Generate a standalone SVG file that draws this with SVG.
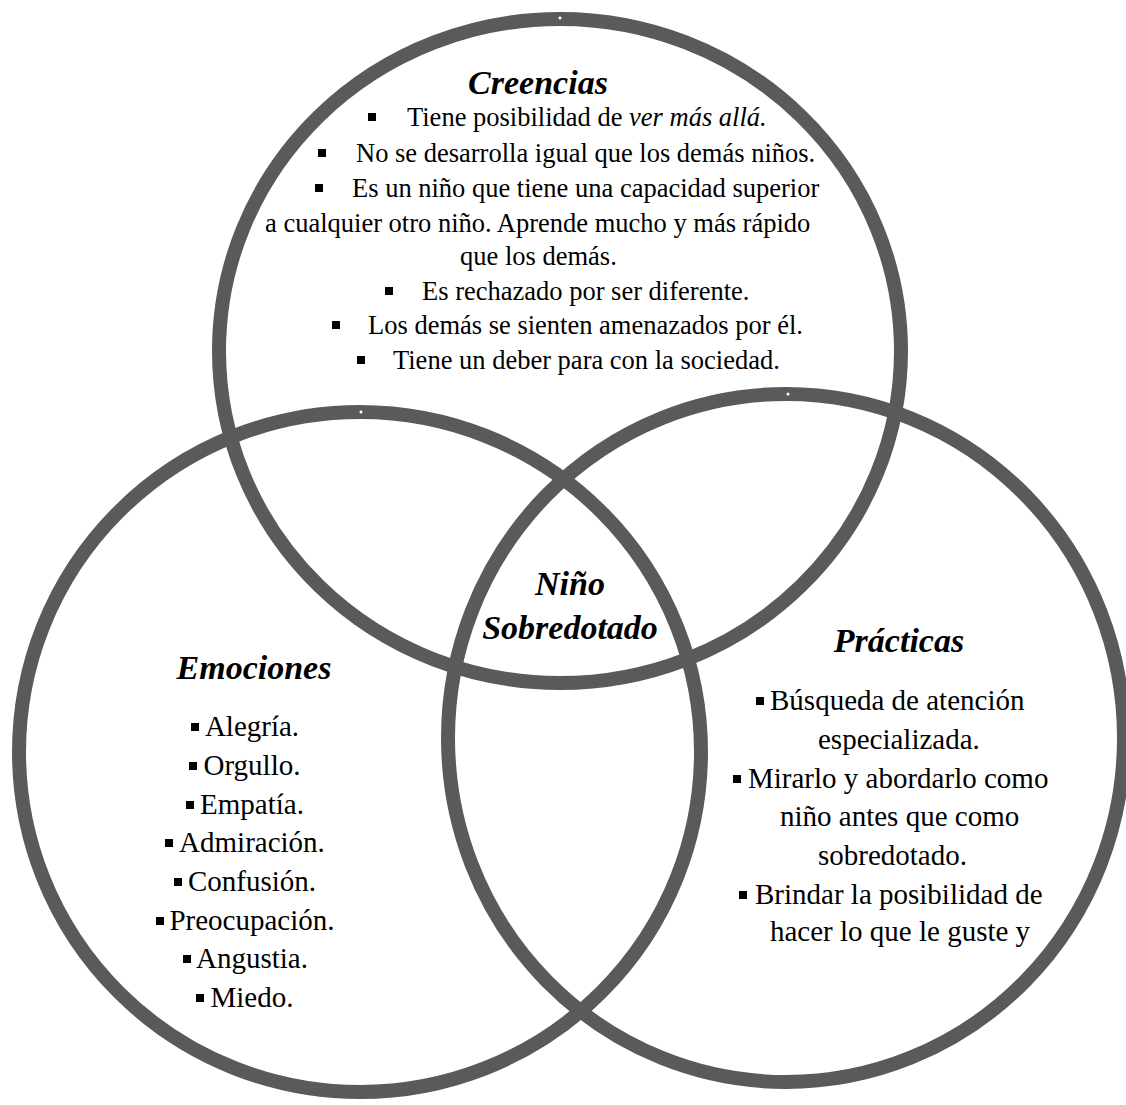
<svg xmlns="http://www.w3.org/2000/svg" width="1126" height="1105" viewBox="0 0 1126 1105">
<style>
.ring{fill:none;stroke:#5a5a5a;stroke-width:14}
.dot{fill:#ffffff}
.title{font-family:"Liberation Serif","Times New Roman",serif;font-weight:bold;font-style:italic;font-size:34px;fill:#000;text-anchor:middle}
.top{font-family:"Liberation Serif","Times New Roman",serif;font-size:26.5px;fill:#000}
.low{font-family:"Liberation Serif","Times New Roman",serif;font-size:29px;fill:#000}
.b{fill:#000}
</style>
<rect width="1126" height="1105" fill="#ffffff"/>
<g id="rings">
<g id="creencias-circle"><ellipse class="ring" cx="560" cy="351" rx="341" ry="332"/><circle class="dot" cx="560" cy="18" r="1.5"/></g>
<g id="emociones-circle"><ellipse class="ring" cx="360" cy="752" rx="341" ry="340"/><circle class="dot" cx="361" cy="412" r="1.5"/></g>
<g id="practicas-circle"><ellipse class="ring" cx="786" cy="738" rx="338" ry="344"/><circle class="dot" cx="788" cy="394" r="1.5"/></g>
</g>
<g id="creencias">
<text class="title" x="538" y="94">Creencias</text>
<g class="top">
<rect class="b" x="368" y="113" width="8" height="8"/>
<text x="407" y="126">Tiene posibilidad de <tspan font-style="italic">ver más allá.</tspan></text>
<rect class="b" x="318" y="149" width="8" height="8"/>
<text x="356" y="162">No se desarrolla igual que los demás niños.</text>
<rect class="b" x="315" y="184" width="8" height="8"/>
<text x="352" y="197">Es un niño que tiene una capacidad superior</text>
<text x="265" y="232">a cualquier otro niño. Aprende mucho y más rápido</text>
<text x="460" y="265">que los demás.</text>
<rect class="b" x="385" y="287" width="8" height="8"/>
<text x="422" y="300">Es rechazado por ser diferente.</text>
<rect class="b" x="332" y="321" width="8" height="8"/>
<text x="368" y="334">Los demás se sienten amenazados por él.</text>
<rect class="b" x="357" y="356" width="8" height="8"/>
<text x="393" y="369">Tiene un deber para con la sociedad.</text>
</g>
</g>
<g id="nino">
<text class="title" x="570" y="595">Niño</text>
<text class="title" x="570" y="639">Sobredotado</text>
</g>
<g id="emociones">
<text class="title" x="254" y="679">Emociones</text>
<g class="low" text-anchor="middle">
<text x="252" y="736">Alegría.</text>
<text x="252" y="775">Orgullo.</text>
<text x="252" y="814">Empatía.</text>
<text x="252" y="852">Admiración.</text>
<text x="252" y="891">Confusión.</text>
<text x="252" y="930">Preocupación.</text>
<text x="252" y="968">Angustia.</text>
<text x="252" y="1007">Miedo.</text>
</g>
<g class="b">
<rect x="191" y="723" width="8" height="8"/>
<rect x="189" y="762" width="8" height="8"/>
<rect x="186" y="801" width="8" height="8"/>
<rect x="165" y="839" width="8" height="8"/>
<rect x="174" y="878" width="8" height="8"/>
<rect x="156" y="917" width="8" height="8"/>
<rect x="183" y="955" width="8" height="8"/>
<rect x="196" y="994" width="8" height="8"/>
</g>
</g>
<g id="practicas">
<text class="title" x="899" y="652">Prácticas</text>
<g class="low">
<rect class="b" x="756" y="697" width="8" height="8"/>
<text x="770" y="710">Búsqueda de atención</text>
<text x="818" y="749">especializada.</text>
<rect class="b" x="733" y="775" width="8" height="8"/>
<text x="748" y="788">Mirarlo y abordarlo como</text>
<text x="780" y="826">niño antes que como</text>
<text x="818" y="865">sobredotado.</text>
<rect class="b" x="739" y="891" width="8" height="8"/>
<text x="755" y="904">Brindar la posibilidad de</text>
<text x="770" y="941">hacer lo que le guste y</text>
</g>
</g>
</svg>
